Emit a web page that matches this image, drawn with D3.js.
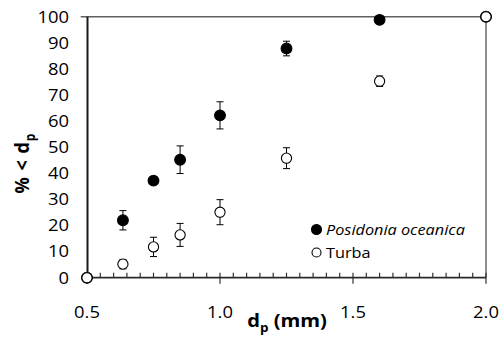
<!DOCTYPE html>
<html>
<head>
<meta charset="utf-8">
<script src="https://cdn.jsdelivr.net/npm/d3@7"></script>
<style>
  html, body { margin: 0; padding: 0; background: #fff; }
  svg { display: block; }
  text { font-family: "Open Sans", "Lato", sans-serif; fill: #000; }
</style>
</head>
<body>
<svg id="chart" width="499" height="338"></svg>
<script>
// Particle size distribution: cumulative % finer than dp
const sizes = [0.5, 0.635, 0.75, 0.85, 1.0, 1.25, 1.6, 2.0];

const posidoniaValues = [0, 22.0, 37.2, 45.2, 62.2, 87.8, 98.8, 100];
const posidoniaErrors = [0, 3.7, 0.8, 5.3, 5.2, 2.8, 0.8, 0];

const turbaValues = [0, 5.2, 11.8, 16.4, 25.1, 45.8, 75.3, 100];
const turbaErrors = [0, 1.8, 3.7, 4.4, 4.8, 4.0, 2.0, 0];

const xTickValues = [0.5, 1.0, 1.5, 2.0];
const yTickValues = [0, 10, 20, 30, 40, 50, 60, 70, 80, 90, 100];

const seriesNames = ["Posidonia oceanica", "Turba"];

const svg = d3.select("#chart");
const plot = { left: 87, right: 486, top: 16.7, bottom: 277.7 };
const stretch = 1.15; // glyphs are drawn slightly wide

const x = d3.scaleLinear().domain([0.5, 2.0]).range([plot.left, plot.right]);
const y = d3.scaleLinear().domain([0, 100]).range([plot.bottom, plot.top]);

// Frame: top and right borders
svg.append("line")
  .attr("x1", 80.7).attr("x2", plot.right)
  .attr("y1", plot.top).attr("y2", plot.top)
  .attr("stroke", "#606060").attr("stroke-width", 1.4);
svg.append("line")
  .attr("x1", plot.right).attr("x2", plot.right)
  .attr("y1", plot.top).attr("y2", plot.bottom)
  .attr("stroke", "#606060").attr("stroke-width", 1.4);

// X axis: minor ticks inside, major ticks crossing
const minorTicks = d3.range(0.55, 2.0, 0.05).filter(v => Math.abs(v * 2 - Math.round(v * 2)) > 1e-6);
const xAxisG = svg.append("g");
xAxisG.selectAll("line.minor").data(minorTicks).join("line")
  .attr("class", "minor")
  .attr("x1", d => x(d)).attr("x2", d => x(d))
  .attr("y1", plot.bottom - 5).attr("y2", plot.bottom)
  .attr("stroke", "#333").attr("stroke-width", 1.2);
xAxisG.selectAll("line.major").data(xTickValues).join("line")
  .attr("class", "major")
  .attr("x1", d => x(d)).attr("x2", d => x(d))
  .attr("y1", plot.bottom - 5).attr("y2", plot.bottom + 6)
  .attr("stroke", "#333").attr("stroke-width", 1.2);
svg.append("line")
  .attr("x1", plot.left).attr("x2", plot.right)
  .attr("y1", plot.bottom).attr("y2", plot.bottom)
  .attr("stroke", "#2a2a2a").attr("stroke-width", 1.8);

xAxisG.selectAll("text").data(xTickValues).join("text")
  .attr("transform", d => `translate(${x(d)},${plot.bottom + 40}) scale(${stretch},1)`)
  .attr("text-anchor", "middle")
  .attr("font-size", 16)
  .text(d => d.toFixed(1));

// Y axis
svg.append("line")
  .attr("x1", plot.left + 0.5).attr("x2", plot.left + 0.5)
  .attr("y1", plot.top).attr("y2", plot.bottom)
  .attr("stroke", "#1a1a1a").attr("stroke-width", 2);

svg.append("g").selectAll("text").data(yTickValues).join("text")
  .attr("transform", d => `translate(69,${y(d) + 5.8}) scale(${stretch},1)`)
  .attr("text-anchor", "end")
  .attr("font-size", 16)
  .text(d => d);

// Axis titles
const xTitle = svg.append("text")
  .attr("transform", `translate(287,327) scale(1.12,1)`)
  .attr("text-anchor", "middle")
  .attr("font-size", 18).attr("font-weight", "bold");
xTitle.append("tspan").text("d");
xTitle.append("tspan").attr("dy", 5).attr("font-size", 12).text("p");
xTitle.append("tspan").attr("dy", -5).text(" (mm)");

const yTitle = svg.append("text")
  .attr("transform", "translate(29,163) rotate(-90) scale(1,1.12)")
  .attr("text-anchor", "middle")
  .attr("font-size", 18).attr("font-weight", "bold")
  .attr("letter-spacing", 1);
yTitle.append("tspan").text("% < d");
yTitle.append("tspan").attr("dy", 5).attr("font-size", 12).text("p");

// Series marks with error bars
function drawSeries(values, errors, filled) {
  const data = sizes.map((s, i) => ({ s, v: values[i], e: errors[i] }));
  const g = svg.append("g");
  const bars = g.selectAll("g.err").data(data.filter(d => d.e > 0)).join("g").attr("class", "err");
  bars.append("line")
    .attr("x1", d => x(d.s)).attr("x2", d => x(d.s))
    .attr("y1", d => y(d.v - d.e)).attr("y2", d => y(d.v + d.e))
    .attr("stroke", "#000").attr("stroke-width", 1);
  [-1, 1].forEach(sign => {
    bars.append("line")
      .attr("x1", d => x(d.s) - 3.5).attr("x2", d => x(d.s) + 3.5)
      .attr("y1", d => y(d.v + sign * d.e)).attr("y2", d => y(d.v + sign * d.e))
      .attr("stroke", "#000").attr("stroke-width", 1);
  });
  g.selectAll("circle").data(data).join("circle")
    .attr("cx", d => x(d.s)).attr("cy", d => y(d.v))
    .attr("r", filled ? 5.4 : 5.1)
    .attr("fill", filled ? "#000" : "#fff")
    .attr("stroke", "#000").attr("stroke-width", 1.1);
}
drawSeries(posidoniaValues, posidoniaErrors, true);
drawSeries(turbaValues, turbaErrors, false);

// Legend
const legend = svg.append("g");
legend.append("circle").attr("cx", 316.5).attr("cy", 229.5).attr("r", 5)
  .attr("fill", "#000").attr("stroke", "#000").attr("stroke-width", 1.1);
legend.append("text")
  .attr("transform", `translate(326,234.5) scale(1.1,1)`)
  .attr("font-size", 14.8).attr("font-style", "italic").text(seriesNames[0]);
legend.append("circle").attr("cx", 316.5).attr("cy", 252.5).attr("r", 4.5)
  .attr("fill", "#fff").attr("stroke", "#000").attr("stroke-width", 1.1);
legend.append("text")
  .attr("transform", `translate(326,257.5) scale(1.1,1)`)
  .attr("font-size", 14.8).text(seriesNames[1]);
</script>
</body>
</html>
